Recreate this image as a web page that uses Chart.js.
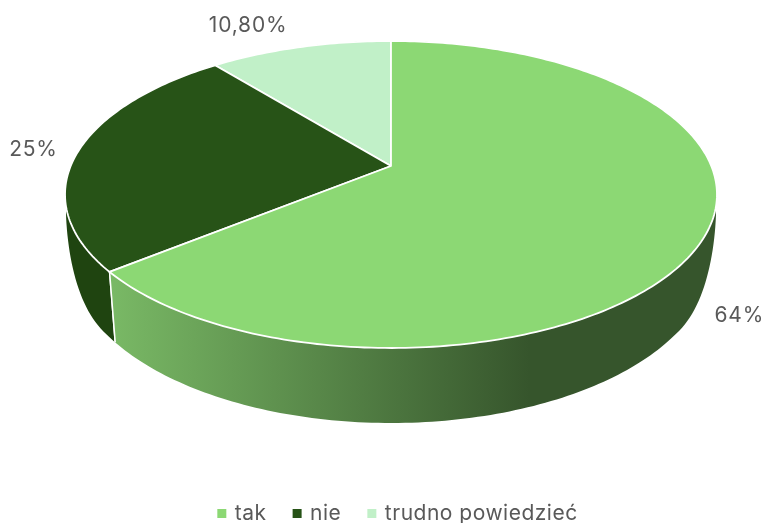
<!DOCTYPE html>
<html>
<head>
<meta charset="utf-8">
<script src="https://cdn.jsdelivr.net/npm/chart.js@4"></script>
<style>
  html, body { margin: 0; background: #fff; }
</style>
</head>
<body>
<canvas id="odpowiedzi" width="763" height="523"></canvas>
<script>
const categories = ['tak', 'nie', 'trudno powiedzieć']
const shares = [64, 25, 10.8]
const shareLabels = ['64%', '25%', '10,80%']
const sliceColors = ['#8CD874', '#275317', '#C1F0C8']

// Perspektywa dysku: środek koła trafia w wierzchołek (x0, y0), dół jest bliżej widza
const x0 = 391, y0 = 166
const scaleX = 320.3, scaleY = 148.2, tilt = -0.1857
const project = (angle) => {
    const u = Math.cos(angle), v = Math.sin(angle)
    const d = 1 + tilt * v
    return { x: x0 + scaleX * u / d, y: y0 + scaleY * v / d }
}

const clamp01 = (t) => Math.min(1, Math.max(0, t))

// Dolna krawędź ścianki: na bokach ścianka niknie, z przodu ma pełną wysokość
const lowerRim = (p) => {
    const t = clamp01((p.y - 195) / 70)
    const depth = 20 + 50 * Math.sin(t * Math.PI / 2) + 5 * clamp01((p.y - 265) / 83)
    return {
        x: x0 + (p.x - x0) * (0.997 - 0.017 * t),
        y: p.y + depth
    }
}

const anglesOf = (arc) => {
    const steps = Math.ceil((arc.endAngle - arc.startAngle) / (Math.PI / 180))
    const list = []
    for (let i = 0; i <= steps; i++) {
        list.push(arc.startAngle + (arc.endAngle - arc.startAngle) * i / steps)
    }
    return list
}

const wallFill = (ctx, index) => {
    if (index === 1) return '#1F4410'
    const g = ctx.createLinearGradient(106, 0, 530, 0)
    g.addColorStop(0, '#7ABA66')
    g.addColorStop(1, '#36552C')
    return g
}

const drawWall = (ctx, arc, index) => {
    const rim = anglesOf(arc).map(project)
    ctx.beginPath()
    rim.forEach((p, i) => i ? ctx.lineTo(p.x, p.y) : ctx.moveTo(p.x, p.y))
    rim.slice().reverse().map(lowerRim).forEach((p) => ctx.lineTo(p.x, p.y))
    ctx.closePath()
    ctx.fillStyle = wallFill(ctx, index)
    ctx.fill()

    // biała linia tylko na krawędziach wycinka
    ctx.beginPath()
    for (const p of [rim[0], rim[rim.length - 1]]) {
        const q = lowerRim(p)
        ctx.moveTo(p.x, p.y)
        ctx.lineTo(q.x, q.y)
    }
    ctx.strokeStyle = '#fff'
    ctx.lineWidth = 1.5
    ctx.stroke()
}

const drawTop = (ctx, arc, index) => {
    ctx.beginPath()
    ctx.moveTo(x0, y0)
    anglesOf(arc).map(project).forEach((p) => ctx.lineTo(p.x, p.y))
    ctx.closePath()
    ctx.fillStyle = sliceColors[index]
    ctx.fill()
    ctx.strokeStyle = '#fff'
    ctx.lineWidth = 1.8
    ctx.lineJoin = 'round'
    ctx.stroke()
}

// przesunięcie etykiety względem punktu na obrzeżu wycinka
const labelShift = [[34, 81], [-45, -1], [-52, -21]]

const tiltedPie = {
    id: 'tiltedPie',
    beforeLayout(chart) {
        chart.ctx.letterSpacing = '0.5px'
    },
    beforeDatasetDraw(chart, args) {
        const ctx = chart.ctx
        const arcs = args.meta.data
        ctx.save()
        for (const i of [2, 1, 0]) drawWall(ctx, arcs[i], i)
        for (const i of [2, 1, 0]) drawTop(ctx, arcs[i], i)

        ctx.font = '21px Inter'
        ctx.letterSpacing = '0.8px'
        ctx.fillStyle = '#595959'
        ctx.textAlign = 'center'
        ctx.textBaseline = 'middle'
        arcs.forEach((arc, i) => {
            const p = project((arc.startAngle + arc.endAngle) / 2)
            ctx.fillText(shareLabels[i], p.x + labelShift[i][0], p.y + labelShift[i][1])
        })
        ctx.restore()
        return false
    }
}

new Chart(document.querySelector('#odpowiedzi'), {
    type: 'pie',
    data: {
        labels: categories,
        datasets: [{
            data: shares,
            backgroundColor: sliceColors,
            borderColor: '#fff',
            borderWidth: 0
        }]
    },
    options: {
        responsive: false,
        animation: false,
        events: [],
        layout: { padding: { left: 34, bottom: -11 } },
        plugins: {
            tooltip: { enabled: false },
            legend: {
                position: 'bottom',
                labels: {
                    usePointStyle: true,
                    pointStyle: 'rect',
                    boxWidth: 5,
                    boxHeight: 9,
                    padding: 28,
                    color: '#595959',
                    font: { family: 'Inter', size: 21 }
                }
            }
        }
    },
    plugins: [tiltedPie]
})
</script>
</body>
</html>
